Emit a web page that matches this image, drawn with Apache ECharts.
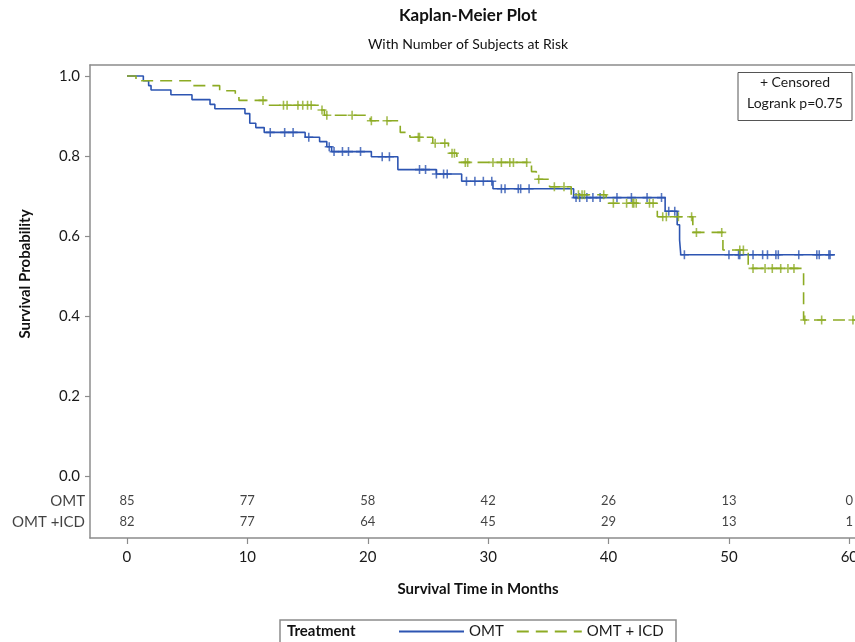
<!DOCTYPE html>
<html><head><meta charset="utf-8">
<script src="https://cdn.jsdelivr.net/npm/echarts@6/dist/echarts.min.js"></script>
<style>html,body{margin:0;padding:0;background:#fff}#c{width:855px;height:642px}</style>
</head><body><div id="c"></div>
<script>
// ---- data ----
const xTicks = [0, 10, 20, 30, 40, 50, 60];
const yTicks = [0, 0.2, 0.4, 0.6, 0.8, 1.0];

const omtTimes = [0, 1.36, 1.8, 2.0, 3.65, 5.4, 6.9, 7.3, 9.8, 10.2, 10.7, 11.4, 14.8, 16.0, 16.6, 17.0, 20.3, 22.5, 25.7, 27.8, 30.4, 37.1, 44.7, 45.7, 45.9, 46.0, 58.8];
const omtSurv  = [1.0, 0.988, 0.976, 0.965, 0.953, 0.941, 0.929, 0.918, 0.906, 0.882, 0.871, 0.859, 0.847, 0.836, 0.823, 0.811, 0.798, 0.766, 0.755, 0.737, 0.718, 0.696, 0.662, 0.628, 0.590, 0.553, 0.553];
const omtCensor = [11.9, 13.1, 13.8, 15.1, 16.8, 17.2, 17.9, 18.4, 19.4, 21.2, 21.8, 24.3, 24.8, 25.7, 26.3, 26.6, 28.2, 28.9, 29.6, 30.3, 31.1, 31.4, 32.5, 32.7, 33.4, 37.3, 37.6, 38.2, 38.7, 39.3, 40.7, 41.9, 43.2, 44.4, 45.0, 45.5, 46.3, 50.0, 50.8, 50.9, 52.0, 52.8, 53.2, 53.9, 54.1, 55.8, 57.3, 57.5, 58.3, 58.4];

const icdTimes = [0, 0.75, 5.5, 7.7, 9.0, 9.3, 11.6, 16.0, 16.4, 20.2, 22.7, 23.5, 25.4, 26.7, 27.4, 33.6, 34.0, 35.1, 36.9, 39.8, 44.05, 47.0, 49.5, 51.6, 56.2, 61.0];
const icdSurv  = [1.0, 0.988, 0.976, 0.963, 0.951, 0.939, 0.927, 0.915, 0.902, 0.888, 0.859, 0.847, 0.832, 0.807, 0.784, 0.761, 0.742, 0.723, 0.703, 0.682, 0.648, 0.609, 0.565, 0.519, 0.390, 0.390];
const icdCensor = [11.3, 13.0, 13.3, 14.2, 14.6, 15.0, 15.3, 16.2, 16.6, 18.7, 20.3, 21.6, 24.2, 24.3, 25.6, 26.4, 27.0, 27.2, 28.1, 28.3, 30.4, 31.1, 31.8, 32.1, 33.2, 34.2, 35.5, 36.3, 37.5, 37.8, 38.0, 39.6, 40.4, 41.5, 42.0, 42.1, 42.3, 43.4, 43.7, 44.5, 44.8, 45.8, 46.9, 47.3, 49.4, 50.9, 51.2, 52.0, 53.0, 53.6, 54.3, 54.9, 55.4, 56.3, 57.7, 60.3];

const riskTimes = [0, 10, 20, 30, 40, 50, 60];
const omtRisk = [85, 77, 58, 42, 26, 13, 0];
const icdRisk = [82, 77, 64, 45, 29, 13, 1];
const groupNames = ['OMT', 'OMT + ICD'];
const riskRowLabels = ['OMT', 'OMT +ICD'];

// ---- helpers ----
function survAt(times, surv, t) {
  let s = surv[0];
  for (let i = 0; i < times.length; i++) if (times[i] <= t) s = surv[i];
  return s;
}
const FONT = 'Lato, "Open Sans", sans-serif';
const BLUE = '#2d55b2', GREEN = '#8dab24', AX = '#8c8c8c', TXT = '#1a1a1a';
const PLUS = 'path://M3.3,0H4.7V3.3H8V4.7H4.7V8H3.3V4.7H0V3.3H3.3Z';
const XMIN = -3.07, XMAX = 60.47, YMIN = -0.155, YMAX = 1.0275;
const ROW1 = -0.0625, ROW2 = -0.115;

const chart = echarts.init(document.getElementById('c'), null, {renderer: 'canvas'});
const option = {
  animation: false,
  backgroundColor: '#fff',
  grid: {left: 90, top: 65, right: 0, bottom: 104, show: false, containLabel: false, outerBoundsMode: 'none'},
  xAxis: [{
    type: 'value', min: XMIN, max: XMAX,
    axisLine: {show: true, onZero: false, lineStyle: {color: AX, width: 1.5}},
    splitLine: {show: false},
    axisTick: {show: true, customValues: xTicks, length: 6, lineStyle: {color: AX, width: 1.2}},
    axisLabel: {customValues: xTicks, margin: 12, fontSize: 15, color: TXT, fontFamily: FONT}
  }, {
    type: 'value', position: 'top', min: XMIN, max: XMAX,
    axisLine: {show: true, onZero: false, lineStyle: {color: AX, width: 1.5}},
    splitLine: {show: false}, axisTick: {show: false}, axisLabel: {show: false}
  }],
  yAxis: {
    type: 'value', min: YMIN, max: YMAX,
    axisLine: {show: true, onZero: false, lineStyle: {color: AX, width: 1.5}},
    splitLine: {show: false},
    axisTick: {show: true, customValues: yTicks, length: 5, lineStyle: {color: AX, width: 1.2}},
    axisLabel: {customValues: yTicks, margin: 10, fontSize: 15, color: TXT, fontFamily: FONT,
      formatter: v => v.toFixed(1)}
  },
  legend: {
    data: groupNames, left: 398, top: 624, itemWidth: 65, itemHeight: 14, itemGap: 12, padding: 0,
    itemStyle: {opacity: 0, borderWidth: 0},
    textStyle: {fontSize: 15, color: TXT, fontFamily: FONT}
  },
  series: [
    {name: groupNames[0], type: 'line', step: 'end', symbol: 'none',
     data: omtTimes.map((t, i) => [t, omtSurv[i]]),
     lineStyle: {color: BLUE, width: 1.6}, itemStyle: {color: BLUE}, z: 3},
    {name: groupNames[1], type: 'line', step: 'end', symbol: 'none',
     data: icdTimes.map((t, i) => [t, icdSurv[i]]),
     lineStyle: {color: GREEN, width: 1.6, type: [12, 7]}, itemStyle: {color: GREEN}, z: 3},
    {name: 'OMT censored', type: 'scatter', symbol: PLUS, symbolSize: 9, silent: true,
     data: omtCensor.map(t => [t, survAt(omtTimes, omtSurv, t)]),
     itemStyle: {color: BLUE}, z: 4},
    {name: 'OMT + ICD censored', type: 'scatter', symbol: PLUS, symbolSize: 9, silent: true,
     data: icdCensor.map(t => [t, survAt(icdTimes, icdSurv, t)]),
     itemStyle: {color: GREEN}, z: 4},
    {name: 'risk1', type: 'scatter', symbolSize: 0, silent: true,
     data: riskTimes.map((t, i) => [t, ROW1, omtRisk[i]]),
     label: {show: true, position: 'inside', formatter: p => String(p.data[2]), fontSize: 13, color: '#111', fontFamily: FONT}},
    {name: 'risk2', type: 'scatter', symbolSize: 0, silent: true,
     data: riskTimes.map((t, i) => [t, ROW2, icdRisk[i]]),
     label: {show: true, position: 'inside', formatter: p => String(p.data[2]), fontSize: 13, color: '#111', fontFamily: FONT}},
    {name: 'riskLabels', type: 'scatter', symbolSize: 0, silent: true, clip: false,
     data: [[XMIN, ROW1, riskRowLabels[0]], [XMIN, ROW2, riskRowLabels[1]]],
     label: {show: true, position: 'left', distance: 5, formatter: p => p.data[2], fontSize: 15, color: '#111', fontFamily: FONT}}
  ],
  graphic: [
    {type: 'text', x: 468, y: 16, style: {text: 'Kaplan-Meier Plot', font: 'bold 17px ' + FONT, fill: '#111', align: 'center', verticalAlign: 'middle'}},
    {type: 'text', x: 468, y: 44, style: {text: 'With Number of Subjects at Risk', font: '14px ' + FONT, fill: '#111', align: 'center', verticalAlign: 'middle'}},
    {type: 'text', x: 25, y: 274, rotation: Math.PI / 2, style: {text: 'Survival Probability', font: 'bold 15px ' + FONT, fill: '#111', align: 'center', verticalAlign: 'middle'}},
    {type: 'text', x: 478, y: 589, style: {text: 'Survival Time in Months', font: 'bold 15px ' + FONT, fill: '#111', align: 'center', verticalAlign: 'middle'}},
    {type: 'rect', shape: {x: 738, y: 72.5, width: 114, height: 48}, style: {fill: '#fff', stroke: '#555', lineWidth: 1}, z: 10},
    {type: 'text', x: 795, y: 82, z: 11, style: {text: '+ Censored', font: '14px ' + FONT, fill: TXT, align: 'center', verticalAlign: 'middle'}},
    {type: 'text', x: 795, y: 103, z: 11, style: {text: 'Logrank p=0.75', font: '14px ' + FONT, fill: TXT, align: 'center', verticalAlign: 'middle'}},
    {type: 'rect', shape: {x: 280, y: 620, width: 396, height: 40}, style: {fill: 'none', stroke: AX, lineWidth: 1.5}},
    {type: 'text', x: 287, y: 631, style: {text: 'Treatment', font: 'bold 15px ' + FONT, fill: '#111', align: 'left', verticalAlign: 'middle'}}
  ]
};
chart.setOption(option);
</script>
</body></html>
